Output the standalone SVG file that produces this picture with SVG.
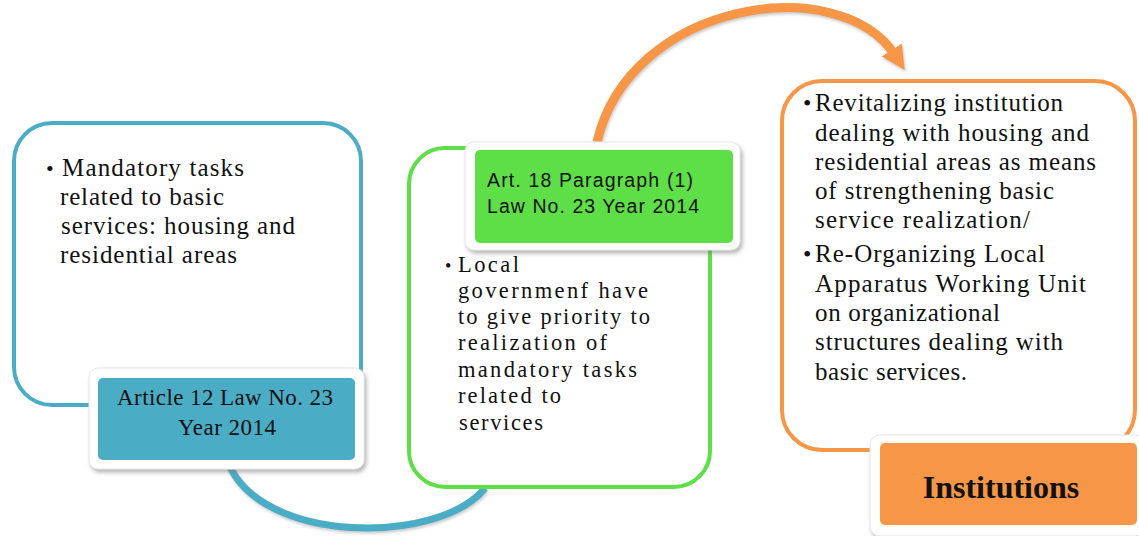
<svg xmlns="http://www.w3.org/2000/svg" width="1139" height="536" viewBox="0 0 1139 536">
<style>
.body{font-family:"Liberation Serif","Times New Roman",serif;font-size:25px;fill:#111}
.gbody{font-family:"Liberation Serif","Times New Roman",serif;font-size:22.5px;fill:#111}
.lab{font-family:"Liberation Serif","Times New Roman",serif;font-size:23px;fill:#111}
.labs{font-family:"Liberation Sans",Arial,sans-serif;font-size:19.5px;fill:#111}
.frame{fill:#fff;stroke:#e6e6e6;stroke-width:1;filter:url(#sh)}
</style>
<defs>
<filter id="sh" x="-10%" y="-10%" width="130%" height="140%">
<feDropShadow dx="2" dy="3" stdDeviation="2" flood-color="#777" flood-opacity="0.55"/>
</filter>
<filter id="sh2" x="-10%" y="-10%" width="130%" height="140%">
<feDropShadow dx="1" dy="2" stdDeviation="1.5" flood-color="#888" flood-opacity="0.45"/>
</filter>
<marker id="ah" markerUnits="userSpaceOnUse" markerWidth="30" markerHeight="30" refX="6" refY="12" orient="auto">
<path d="M0,0 L24,12 L0,24 Z" fill="#F79646"/>
</marker>
</defs>
<g id="connectors" fill="none" filter="url(#sh2)">
<path d="M228,462 C260,545 440,545 485,488" stroke="#4BACC6" stroke-width="7"/>
<path d="M597,142 C630,0 840,-30 895,55" stroke="#F79646" stroke-width="9" marker-end="url(#ah)"/>
</g>
<g id="node-basic-services">
<rect x="14" y="123" width="347" height="282" rx="38" fill="#fff" stroke="#4BACC6" stroke-width="4"/>
<text class="body" x="46" y="176" style="font-size:22px">•</text>
<text class="body" x="62" y="176" textLength="182" lengthAdjust="spacing">Mandatory tasks</text>
<text class="body" x="60" y="205" textLength="164" lengthAdjust="spacing">related to basic</text>
<text class="body" x="61" y="234" textLength="234" lengthAdjust="spacing">services: housing and</text>
<text class="body" x="60" y="263" textLength="177" lengthAdjust="spacing">residential areas</text>
</g>
<g id="label-article-12">
<rect class="frame" x="89" y="368" width="275" height="101" rx="9"/>
<rect x="98" y="378" width="257" height="82" rx="5" fill="#4BACC6"/>
<text class="lab" x="117" y="405" textLength="216" lengthAdjust="spacing">Article 12 Law No. 23</text>
<text class="lab" x="178" y="435" textLength="98" lengthAdjust="spacing">Year 2014</text>
</g>
<g id="node-local-government">
<rect x="409" y="148" width="301" height="339" rx="36" fill="#fff" stroke="#5EDF48" stroke-width="4"/>
<text class="gbody" x="445" y="272" style="font-size:18px">•</text>
<text class="gbody" x="458" y="272" textLength="61" lengthAdjust="spacing">Local</text>
<text class="gbody" x="458" y="298" textLength="190" lengthAdjust="spacing">governmenf have</text>
<text class="gbody" x="458" y="324" textLength="192" lengthAdjust="spacing">to give priority to</text>
<text class="gbody" x="458" y="350" textLength="149" lengthAdjust="spacing">realization  of</text>
<text class="gbody" x="458" y="377" textLength="179" lengthAdjust="spacing">mandatory tasks</text>
<text class="gbody" x="458" y="403" textLength="103" lengthAdjust="spacing">related to</text>
<text class="gbody" x="459" y="430" textLength="84" lengthAdjust="spacing">services</text>
</g>
<g id="label-article-18">
<rect class="frame" x="465" y="142" width="275" height="108" rx="9"/>
<rect x="475" y="150" width="258" height="93" rx="5" fill="#5EDF48"/>
<text class="labs" x="487" y="187" textLength="206" lengthAdjust="spacing">Art. 18 Paragraph (1)</text>
<text class="labs" x="487" y="213" textLength="212" lengthAdjust="spacing">Law No. 23 Year 2014</text>
</g>
<g id="node-institution-actions">
<rect x="782" y="81" width="353" height="369" rx="40" fill="#fff" stroke="#F79646" stroke-width="4"/>
<text class="body" x="803" y="111" style="font-size:24px">•</text>
<text class="body" x="815" y="111" textLength="248" lengthAdjust="spacing">Revitalizing institution</text>
<text class="body" x="815" y="141" textLength="274" lengthAdjust="spacing">dealing with housing and</text>
<text class="body" x="815" y="170" textLength="281" lengthAdjust="spacing">residential areas as means</text>
<text class="body" x="815" y="199" textLength="239" lengthAdjust="spacing">of strengthening basic</text>
<text class="body" x="815" y="228" textLength="215" lengthAdjust="spacing">service realization/</text>
<text class="body" x="803" y="262" style="font-size:24px">•</text>
<text class="body" x="815" y="262" textLength="230" lengthAdjust="spacing">Re-Organizing Local</text>
<text class="body" x="815" y="292" textLength="271" lengthAdjust="spacing">Apparatus Working Unit</text>
<text class="body" x="815" y="321" textLength="185" lengthAdjust="spacing">on organizational</text>
<text class="body" x="815" y="350" textLength="248" lengthAdjust="spacing">structures dealing with</text>
<text class="body" x="815" y="380" textLength="152" lengthAdjust="spacing">basic services.</text>
</g>
<g id="label-institutions">
<rect class="frame" x="870" y="435" width="275" height="101" rx="10"/>
<rect x="880" y="443" width="257" height="82" rx="5" fill="#F79646"/>
<text x="1001" y="498" text-anchor="middle" style="font-family:'Liberation Serif','Times New Roman',serif;font-size:32px;font-weight:bold;fill:#111">Institutions</text>
</g>
</svg>
